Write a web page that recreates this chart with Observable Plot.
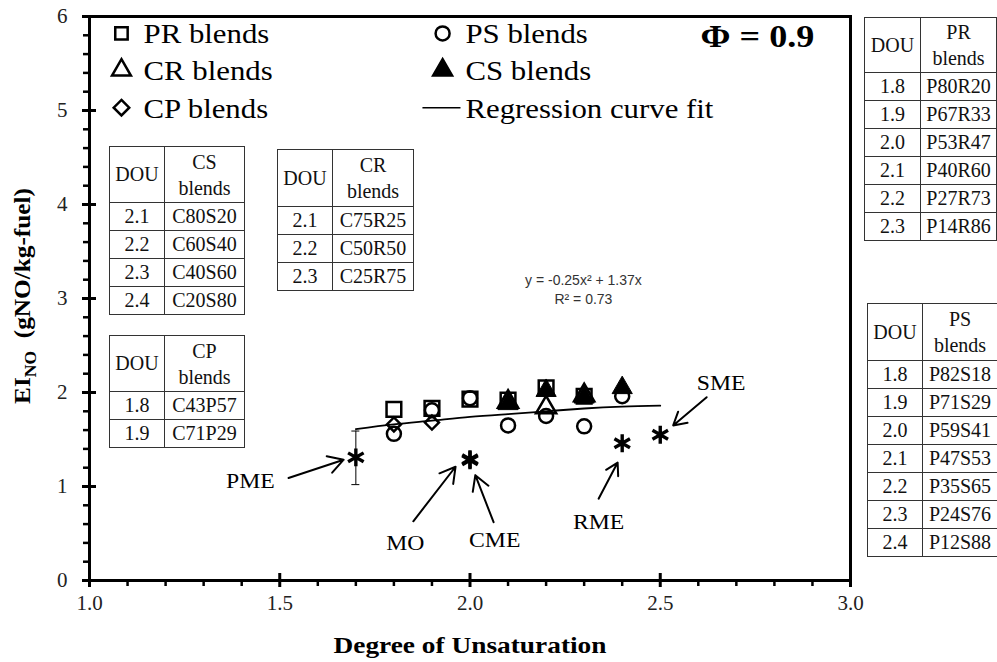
<!DOCTYPE html>
<html><head><meta charset="utf-8">
<script src="https://cdn.jsdelivr.net/npm/d3@7"></script>
<script src="https://cdn.jsdelivr.net/npm/@observablehq/plot@0.6"></script>
<style>
body{margin:0;background:#fff;}
#wrap{position:relative;width:997px;height:662px;font-family:"Liberation Serif","Times New Roman",serif;overflow:hidden;}
table.t{position:absolute;border-collapse:collapse;font-family:"Liberation Serif",serif;font-size:20px;color:#111;background:#fff;table-layout:fixed;}
table.t td{border:1px solid #333;text-align:center;padding:0;line-height:25px;overflow:hidden;white-space:nowrap;}
</style></head><body><div id="wrap"></div>
<script>
// ---- data ----
const prDou = [1.8, 1.9, 2.0, 2.1, 2.2, 2.3];
const prEI  = [1.82, 1.83, 1.93, 1.92, 2.05, 1.96];
const psDou = [1.8, 1.9, 2.0, 2.1, 2.2, 2.3, 2.4];
const psEI  = [1.56, 1.81, 1.94, 1.65, 1.75, 1.64, 1.96];
const crDou = [2.1, 2.2, 2.3];
const crEI  = [1.90, 1.84, 1.97];
const csDou = [2.1, 2.2, 2.3, 2.4];
const csEI  = [1.88, 2.02, 1.95, 2.05];
const cpDou = [1.8, 1.9];
const cpEI  = [1.66, 1.68];
const fuelNames = ["PME", "MO", "CME", "RME", "SME"];
const fuelDou = [1.7, 2.0, 2.0, 2.4, 2.5];
const fuelEI  = [1.31, 1.29, 1.28, 1.46, 1.55];
const pmeErrLow = 1.02, pmeErrHigh = 1.59;
const fitDou = [1.7, 1.8, 1.9, 2.0, 2.1, 2.2, 2.3, 2.4, 2.5];
const fitEI  = [1.61, 1.66, 1.70, 1.74, 1.77, 1.80, 1.83, 1.85, 1.86];
const xMajor = [1.0, 1.5, 2.0, 2.5, 3.0];
const yMajor = [0, 1, 2, 3, 4, 5, 6];
const legendLabels = ["PR blends", "CR blends", "CP blends", "PS blends", "CS blends", "Regression curve fit"];
const equationLines = ["y = -0.25x\u00b2 + 1.37x", "R\u00b2 = 0.73"];
const phiText = "\u03a6 = 0.9";

// tables
const csTableDou = ["2.1", "2.2", "2.3", "2.4"], csTableBlend = ["C80S20", "C60S40", "C40S60", "C20S80"];
const crTableDou = ["2.1", "2.2", "2.3"], crTableBlend = ["C75R25", "C50R50", "C25R75"];
const cpTableDou = ["1.8", "1.9"], cpTableBlend = ["C43P57", "C71P29"];
const prTableDou = ["1.8", "1.9", "2.0", "2.1", "2.2", "2.3"], prTableBlend = ["P80R20", "P67R33", "P53R47", "P40R60", "P27R73", "P14R86"];
const psTableDou = ["1.8", "1.9", "2.0", "2.1", "2.2", "2.3", "2.4"], psTableBlend = ["P82S18", "P71S29", "P59S41", "P47S53", "P35S65", "P24S76", "P12S88"];

// ---- build ----
const SERIF = '"Liberation Serif", "Times New Roman", serif';
const pts = (xs, ys) => xs.map((x, i) => ({x, y: ys[i]}));
const xMinor = d3.range(11, 30).map(v => v / 10).filter(v => !xMajor.some(m => Math.abs(m - v) < 1e-9));
const yMinor = d3.range(1, 30).map(v => v / 5).filter(v => !yMajor.some(m => Math.abs(m - v) < 1e-9));
const fuels = fuelNames.map((n, i) => ({name: n, x: fuelDou[i], y: fuelEI[i]}));

// layout (data coordinates) of annotations
const labelPos = {PME: [1.423, 1.06], MO: [1.83, 0.40], CME: [2.065, 0.43], RME: [2.338, 0.62], SME: [2.66, 2.10]};
const arrowPos = {PME: [1.523, 1.09, 1.668, 1.285], MO: [1.851, 0.63, 1.962, 1.21], CME: [2.062, 0.62, 2.014, 1.12], RME: [2.338, 0.87, 2.388, 1.255], SME: [2.622, 1.95, 2.534, 1.65]};
const annot = fuelNames.map(n => ({name: n, lx: labelPos[n][0], ly: labelPos[n][1], x1: arrowPos[n][0], y1: arrowPos[n][1], x2: arrowPos[n][2], y2: arrowPos[n][3]}));

const legendSym = [
  {sym: "square", fill: "none", x: 1.084, tx: 1.142, y: 5.82},
  {sym: "triangle", fill: "none", x: 1.084, tx: 1.142, y: 5.43},
  {sym: "diamond2", fill: "none", x: 1.084, tx: 1.142, y: 5.03},
  {sym: "circle", fill: "none", x: 1.928, tx: 1.988, y: 5.82},
  {sym: "triangle", fill: "black", x: 1.928, tx: 1.988, y: 5.43},
  {sym: null, fill: "none", x: 1.928, tx: 1.988, y: 5.03}
].map((d, i) => ({...d, label: legendLabels[i]}));

const open = {stroke: "black", strokeWidth: 2.5, fill: "none"};
const chart = Plot.plot({
  width: 997, height: 662,
  marginLeft: 89, marginRight: 147, marginTop: 16, marginBottom: 82,
  x: {domain: [1, 3]}, y: {domain: [0, 6]},
  style: {fontFamily: SERIF, fontSize: "21px", background: "white", color: "black", overflow: "visible"},
  marks: [
    Plot.axisX(xMajor, {tickSize: 7, tickPadding: 8, tickFormat: d3.format(".1f"), strokeWidth: 3, label: null, fontSize: 21, fontFamily: SERIF, fill: "#222"}),
    Plot.axisX(xMinor, {tickSize: 6, tickFormat: () => "", strokeWidth: 2.5, label: null}),
    Plot.axisY(yMajor, {tickSize: 7, tickPadding: 15, tickFormat: d3.format("d"), strokeWidth: 3, label: null, fontSize: 21, fontFamily: SERIF, fill: "#222"}),
    Plot.axisY(yMinor, {tickSize: 6, tickFormat: () => "", strokeWidth: 2.5, label: null}),
    Plot.ruleX(xMajor, {x: d => d, insetTop: 564 - 7, strokeWidth: 3}),
    Plot.ruleY(yMajor, {y: d => d, insetRight: 761 - 7, strokeWidth: 3}),
    Plot.frame({strokeWidth: 3}),
    // regression curve
    Plot.line(pts(fitDou, fitEI), {x: "x", y: "y", curve: "natural", strokeWidth: 1.8}),
    // error bar for PME
    Plot.ruleX([{x: fuelDou[0]}], {x: "x", y1: pmeErrLow, y2: pmeErrHigh, strokeWidth: 1}),
    Plot.ruleY([pmeErrLow, pmeErrHigh], {y: d => d, x1: fuelDou[0], x2: fuelDou[0], insetLeft: -4, insetRight: -4, strokeWidth: 1}),
    // blends
    Plot.dot(pts(psDou, psEI), {x: "x", y: "y", symbol: "circle", r: 7, ...open}),
    Plot.dot(pts(cpDou, cpEI), {x: "x", y: "y", symbol: "diamond2", r: 6.3, ...open}),
    Plot.dot(pts(prDou, prEI), {x: "x", y: "y", symbol: "square", r: 8.3, ...open}),
    Plot.dot(pts(crDou, crEI), {x: "x", y: "y", symbol: "triangle", r: 7.5, ...open}),
    Plot.dot(pts(csDou, csEI), {x: "x", y: "y", symbol: "triangle", r: 7.5, fill: "black", stroke: "black", strokeWidth: 1}),
    // fuels
    Plot.dot(fuels, {x: "x", y: "y", symbol: "asterisk", r: 8.5, stroke: "black", strokeWidth: 3.4}),
    Plot.arrow(annot, {x1: "x1", y1: "y1", x2: "x2", y2: "y2", strokeWidth: 2, headLength: 13, bend: 0}),
    Plot.text(annot, {x: "lx", y: "ly", text: "name", fontSize: 21, fontFamily: SERIF, className: "stretch"}),
    // equation
    Plot.text([equationLines[0]], {x: 2.298, y: 3.19, text: d => d, fontFamily: '"Liberation Sans", Arial, sans-serif', fontSize: 14, fill: "#333"}),
    Plot.text([equationLines[1]], {x: 2.298, y: 2.99, text: d => d, fontFamily: '"Liberation Sans", Arial, sans-serif', fontSize: 14, fill: "#333"}),
    // legend
    Plot.dot(legendSym.filter(d => d.sym), {x: "x", y: "y", symbol: "sym", r: 7, fill: "fill", stroke: "black", strokeWidth: 2.5}),
    Plot.link(legendSym.filter(d => !d.sym), {x1: 1.875, x2: 1.975, y1: "y", y2: "y", strokeWidth: 1.5}),
    Plot.text(legendSym, {x: "tx", y: "y", text: "label", textAnchor: "start", fontSize: 28, fontFamily: SERIF, dy: 1, className: "stretchL"}),
    Plot.text([phiText], {x: 2.606, y: 5.78, text: d => d, textAnchor: "start", fontSize: 32, fontWeight: "bold", fontFamily: SERIF, className: "stretch"})
  ]
});

const wrap = document.getElementById("wrap");
wrap.appendChild(chart);
const svg = d3.select(chart);
// horizontal stretch like the reference's type
function stretch(sel, k) {
  sel.each(function() {
    const t = this.getAttribute("transform") || "";
    this.setAttribute("transform", t + ` scale(${k},1)`);
  });
}
stretch(svg.selectAll("g.stretch text"), 1.13);
stretch(svg.selectAll("g.stretchL text"), 1.1);
// axis titles
svg.append("text").attr("transform", "translate(470,653) scale(1.19,1)").attr("text-anchor", "middle").attr("font-family", SERIF)
  .attr("font-weight", "bold").attr("font-size", 23).attr("fill", "black").text("Degree of Unsaturation");
const yl = svg.append("text").attr("transform", "translate(30,296) rotate(-90) scale(1.1,1)").attr("text-anchor", "middle").attr("font-family", SERIF)
  .attr("font-weight", "bold").attr("font-size", 23).attr("fill", "black").attr("xml:space", "preserve");
yl.append("tspan").text("EI");
yl.append("tspan").attr("font-size", 16).attr("dy", 6).text("NO");
yl.append("tspan").attr("dy", -6).text("\u00a0\u00a0(gNO/kg-fuel)");

function makeTable(name, dou, blends, left, top, w1, w2, headH, rowH) {
  const t = document.createElement("table");
  t.className = "t";
  t.style.left = left + "px"; t.style.top = top + "px"; t.style.width = (w1 + w2) + "px";
  let html = `<colgroup><col style="width:${w1}px"><col style="width:${w2}px"></colgroup>`;
  html += `<tr style="height:${headH}px"><td>DOU</td><td style="line-height:26px">${name}<br>blends</td></tr>`;
  dou.forEach((d, i) => { html += `<tr style="height:${rowH}px"><td>${d}</td><td>${blends[i]}</td></tr>`; });
  t.innerHTML = html;
  wrap.appendChild(t);
}
makeTable("CS", csTableDou, csTableBlend, 109, 146, 55, 80, 56, 28);
makeTable("CR", crTableDou, crTableBlend, 277, 149, 55, 81, 57, 28);
makeTable("CP", cpTableDou, cpTableBlend, 109, 335, 55, 80, 56, 28);
makeTable("PR", prTableDou, prTableBlend, 864, 17, 56, 76, 55, 28);
makeTable("PS", psTableDou, psTableBlend, 867, 303, 55, 75, 57, 28);
</script>
</body></html>
